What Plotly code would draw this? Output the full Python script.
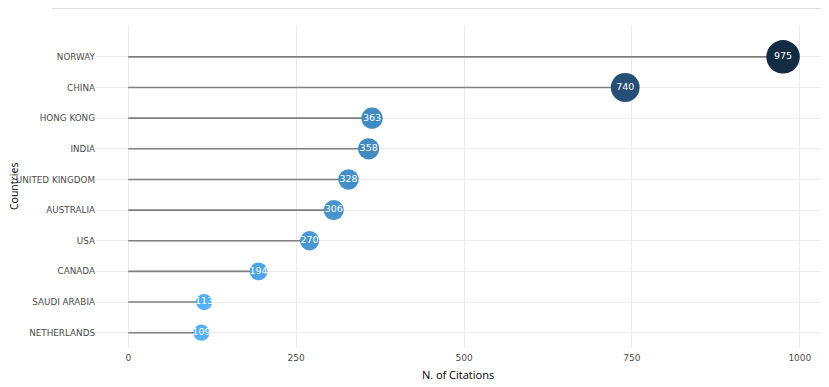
import plotly.graph_objects as go

countries = ["NETHERLANDS", "SAUDI ARABIA", "CANADA", "USA", "AUSTRALIA",
             "UNITED KINGDOM", "INDIA", "HONG KONG", "CHINA", "NORWAY"]
citations = [109, 113, 194, 270, 306, 328, 358, 363, 740, 975]
x_ticks = [0, 250, 500, 750, 1000]

low_c = (0x56, 0xB1, 0xF7)
high_c = (0x13, 0x2B, 0x43)
vmin, vmax = min(citations), max(citations)

def col(v):
    t = (v - vmin) / (vmax - vmin)
    r, g, b = [round(a + (c - a) * t) for a, c in zip(low_c, high_c)]
    return f"rgb({r},{g},{b})"

colors = [col(v) for v in citations]
sizes = [14 + 0.02 * v for v in citations]

lx, ly = [], []
for c, v in zip(countries, citations):
    lx += [0, v, None]
    ly += [c, c, None]

fig = go.Figure()
fig.add_trace(go.Scatter(x=lx, y=ly, mode="lines",
                         line=dict(color="#7f7f7f", width=1.6),
                         hoverinfo="skip", showlegend=False))
fig.add_trace(go.Scatter(x=citations, y=countries, mode="markers+text",
                         marker=dict(color=colors, size=sizes, line=dict(width=0), opacity=1),
                         text=[str(v) for v in citations], textposition="middle center",
                         textfont=dict(color="white", size=9.5, family="DejaVu Sans"),
                         showlegend=False))

# page body has an 8px margin; figure is sized to fit
FW, FH = 821, 379
L, R, T, B = 88, 9, 17, 39
W, H = FW - L - R, FH - T - B

fig.update_layout(
    width=FW, height=FH,
    margin=dict(l=L, r=R, t=T, b=B),
    paper_bgcolor="white", plot_bgcolor="white",
    xaxis=dict(range=[-48, 1030], tickvals=x_ticks, ticktext=[str(t) for t in x_ticks],
               showgrid=True, gridcolor="#ebebeb", gridwidth=1, zeroline=False, automargin=False,
               tickfont=dict(family="DejaVu Sans", size=9, color="#4d4d4d"),
               ticklabelstandoff=3,
               title=dict(text="N. of Citations", font=dict(family="Open Sans", size=11, color="black"),
                          standoff=9),
               ticks="", showline=False),
    yaxis=dict(categoryorder="array", categoryarray=countries, range=[-0.5, 10.04],
               showgrid=True, gridcolor="#ebebeb", gridwidth=1, zeroline=False, automargin=False,
               tickfont=dict(family="DejaVu Sans", size=8.8, color="#4d4d4d"),
               ticks="", showline=False),
    annotations=[
        dict(text="Countries", xref="paper", yref="paper", x=(5.5 - L) / W, y=0.5,
             xanchor="center", yanchor="middle", textangle=-90, showarrow=False,
             font=dict(family="Open Sans", size=10.5, color="black")),
    ],
    shapes=[
        dict(type="line", xref="paper", yref="paper",
             x0=(44 - L) / W, x1=(FW - L) / W, y0=(FH - B - 0.5) / H, y1=(FH - B - 0.5) / H,
             line=dict(color="#dddddd", width=1)),
    ],
)

fig.write_html("out.html")
